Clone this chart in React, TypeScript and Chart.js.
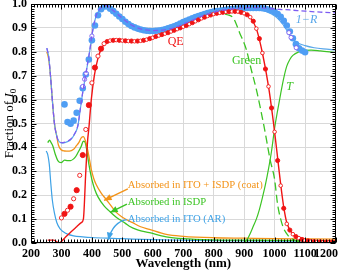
import React, { useEffect, useRef } from 'react';
import { Chart, registerables } from 'chart.js';
Chart.register(...registerables);

const SERIF = '"Liberation Serif", "DejaVu Serif", serif';

// ---------- data ----------
const xTickLabels = [200, 300, 400, 500, 600, 700, 800, 900, 1000, 1100, 1200];

// 1-R, thin solid line (calculated)
const rLineX = [252, 258, 264, 270, 277, 285, 293, 305, 320, 330, 343, 354, 362, 370, 381, 392, 403, 414, 430, 447, 460, 480, 500, 530, 560, 600, 640, 680, 720, 760, 800, 840, 880, 920, 950, 970, 990, 1010, 1030, 1040, 1050, 1060, 1075, 1100, 1130, 1160, 1200];
const rLineY = [0.815, 0.78, 0.70, 0.60, 0.50, 0.445, 0.423, 0.418, 0.424, 0.432, 0.455, 0.49, 0.56, 0.63, 0.713, 0.796, 0.89, 0.95, 0.982, 0.992, 0.98, 0.96, 0.938, 0.91, 0.894, 0.886, 0.89, 0.903, 0.925, 0.946, 0.963, 0.974, 0.98, 0.982, 0.978, 0.97, 0.958, 0.94, 0.91, 0.89, 0.868, 0.853, 0.838, 0.826, 0.817, 0.812, 0.808];

// 1-R, dashed purple line
const rDashX = [252, 258, 264, 270, 277, 285, 293, 305, 320, 330, 343, 354, 362, 370, 381, 392, 403, 414, 430, 447, 460, 480, 500, 530, 560, 600, 640, 680, 720, 760, 800, 840, 880, 920, 960, 1000, 1050, 1100, 1150, 1200];
const rDashY = [0.815, 0.78, 0.70, 0.60, 0.50, 0.445, 0.423, 0.42, 0.426, 0.434, 0.457, 0.492, 0.562, 0.632, 0.715, 0.798, 0.892, 0.952, 0.984, 0.994, 0.982, 0.962, 0.94, 0.912, 0.896, 0.889, 0.892, 0.905, 0.927, 0.948, 0.965, 0.976, 0.982, 0.985, 0.984, 0.979, 0.975, 0.97, 0.966, 0.963];

// 1-R measured, filled blue circles
const rMeasX = [310, 320, 330, 340, 350, 360, 370, 380, 390, 400, 410, 420, 430, 440, 450, 460, 470, 480, 490, 500, 510, 520, 530, 540, 550, 560, 570, 580, 590, 600, 610, 620, 630, 640, 650, 660, 670, 680, 690, 700, 710, 720, 730, 740, 750, 760, 770, 780, 790, 800, 810, 820, 830, 840, 850, 860, 870, 880, 890, 900, 910, 920, 930, 940, 950, 960, 970, 980, 990, 1000, 1010, 1020, 1030, 1040, 1050, 1060, 1070, 1080, 1090, 1100];
const rMeasY = [0.58, 0.506, 0.499, 0.512, 0.545, 0.595, 0.648, 0.705, 0.768, 0.848, 0.91, 0.953, 0.978, 0.99, 0.99, 0.98, 0.97, 0.959, 0.948, 0.937, 0.926, 0.916, 0.908, 0.902, 0.897, 0.893, 0.89, 0.888, 0.887, 0.887, 0.888, 0.889, 0.891, 0.894, 0.898, 0.902, 0.907, 0.912, 0.918, 0.924, 0.93, 0.935, 0.94, 0.945, 0.95, 0.954, 0.958, 0.962, 0.965, 0.968, 0.97, 0.972, 0.974, 0.976, 0.978, 0.979, 0.98, 0.981, 0.982, 0.983, 0.983, 0.983, 0.983, 0.983, 0.983, 0.982, 0.98, 0.977, 0.973, 0.967, 0.958, 0.946, 0.93, 0.91, 0.885, 0.857, 0.832, 0.815, 0.805, 0.798];

// 1-R second measurement, open purple circles
const rOpenX = [370, 376, 381, 400, 1047, 1054, 1071];
const rOpenY = [0.655, 0.685, 0.71, 0.866, 0.88, 0.86, 0.817];

// QE measured markers (alternating open / filled)
const qeMarkX = [300, 310, 320, 330, 340, 350, 360, 370, 380, 390, 400, 410, 420, 430, 440, 450, 460, 470, 480, 490, 500, 510, 520, 530, 540, 550, 560, 570, 580, 590, 600, 610, 620, 630, 640, 650, 660, 670, 680, 690, 700, 710, 720, 730, 740, 750, 760, 770, 780, 790, 800, 810, 820, 830, 840, 850, 860, 870, 880, 890, 900, 910, 920, 930, 940, 950, 960, 970, 980, 990, 1000, 1010, 1020, 1030, 1040, 1050, 1060, 1070, 1080, 1090, 1100, 1110, 1120, 1130, 1140, 1150, 1160, 1170, 1180, 1190, 1200];
const qeMarkY = [0.105, 0.122, 0.137, 0.152, 0.185, 0.221, 0.283, 0.368, 0.475, 0.577, 0.67, 0.734, 0.782, 0.813, 0.834, 0.843, 0.847, 0.848, 0.849, 0.848, 0.847, 0.846, 0.845, 0.845, 0.844, 0.845, 0.846, 0.848, 0.851, 0.855, 0.859, 0.864, 0.868, 0.872, 0.876, 0.88, 0.885, 0.89, 0.895, 0.9, 0.905, 0.91, 0.916, 0.922, 0.928, 0.934, 0.94, 0.945, 0.95, 0.954, 0.958, 0.961, 0.963, 0.965, 0.967, 0.968, 0.969, 0.969, 0.968, 0.965, 0.961, 0.955, 0.945, 0.928, 0.897, 0.855, 0.795, 0.728, 0.655, 0.565, 0.465, 0.345, 0.24, 0.145, 0.08, 0.054, 0.037, 0.027, 0.02, 0.015, 0.011, 0.009, 0.007, 0.006, 0.005, 0.005, 0.004, 0.004, 0.004, 0.004, 0.004];

// QE calculated, red line
const qeLineX = [255, 275, 292, 310, 330, 350, 365, 372, 380, 386, 390, 398, 408, 419, 430, 447, 470, 500, 550, 580, 600, 650, 700, 750, 800, 850, 880, 900, 920, 940, 960, 980, 1000, 1010, 1020, 1030, 1040, 1060, 1080, 1100, 1150, 1200];
const qeLineY = [0.012, 0.012, 0.0, 0.02, 0.045, 0.068, 0.085, 0.1, 0.3, 0.43, 0.48, 0.6, 0.7, 0.768, 0.81, 0.838, 0.845, 0.846, 0.845, 0.85, 0.858, 0.879, 0.905, 0.934, 0.958, 0.968, 0.968, 0.961, 0.944, 0.897, 0.795, 0.655, 0.465, 0.355, 0.245, 0.15, 0.085, 0.037, 0.02, 0.011, 0.005, 0.004];

// Green (dashed)
const greenX = [760, 790, 820, 845, 865, 885, 907, 923, 940, 954, 965, 975, 985, 1000, 1010, 1020, 1030, 1045, 1060, 1080];
const greenY = [0.945, 0.958, 0.962, 0.955, 0.94, 0.88, 0.81, 0.727, 0.643, 0.56, 0.49, 0.42, 0.35, 0.266, 0.16, 0.1, 0.06, 0.03, 0.015, 0.005];

// T (green solid)
const tX = [900, 910, 920, 930, 940, 950, 960, 970, 980, 990, 1000, 1010, 1020, 1030, 1040, 1050, 1060, 1080, 1100, 1120, 1150, 1180, 1200];
const tY = [0.0, 0.015, 0.04, 0.07, 0.1, 0.14, 0.19, 0.245, 0.31, 0.385, 0.48, 0.555, 0.625, 0.69, 0.74, 0.768, 0.785, 0.8, 0.806, 0.807, 0.804, 0.8, 0.797];

// Absorbed in ITO + ISDP (coat), orange
const coatX = [252, 258, 264, 270, 277, 284, 290, 299, 310, 326, 340, 348, 357, 365, 372, 378, 386, 392, 398, 406, 414, 430, 447, 465, 480, 500, 534, 560, 589, 644, 700, 800, 900, 1000, 1100, 1200];
const coatY = [0.8, 0.77, 0.70, 0.60, 0.50, 0.45, 0.41, 0.39, 0.385, 0.384, 0.392, 0.405, 0.42, 0.44, 0.445, 0.43, 0.39, 0.35, 0.308, 0.27, 0.245, 0.21, 0.182, 0.152, 0.128, 0.108, 0.085, 0.068, 0.057, 0.036, 0.028, 0.022, 0.02, 0.018, 0.017, 0.016];

// Absorbed in ISDP, green
const isdpX = [255, 261, 266, 272, 280, 288, 299, 310, 320, 330, 340, 348, 357, 365, 372, 378, 383, 390, 400, 410, 420, 440, 458, 475, 491, 510, 523, 550, 589, 644, 700, 800, 900, 1000, 1100, 1200];
const isdpY = [0.42, 0.43, 0.42, 0.405, 0.37, 0.345, 0.336, 0.347, 0.345, 0.345, 0.352, 0.364, 0.385, 0.405, 0.426, 0.42, 0.39, 0.33, 0.265, 0.222, 0.193, 0.155, 0.133, 0.113, 0.098, 0.082, 0.07, 0.055, 0.043, 0.026, 0.018, 0.013, 0.012, 0.011, 0.01, 0.01];

// Absorbed in ITO (AR), light blue
const itoX = [250, 255, 260, 265, 270, 277, 285, 295, 305, 320, 340, 370, 400, 450, 500, 600, 700, 800, 1000, 1200];
const itoY = [0.385, 0.37, 0.33, 0.25, 0.18, 0.125, 0.085, 0.06, 0.048, 0.037, 0.03, 0.026, 0.023, 0.02, 0.018, 0.014, 0.012, 0.01, 0.008, 0.007];

// ---------- styles ----------
const C_BLUE = '#4f9ef4';
const C_BLUE_LINE = '#5aa8ea';
const C_PURPLE = '#7d5cf2';
const C_RED = '#f01414';
const C_GREEN = '#3cc424';
const C_ORANGE = '#f39318';
const C_ITO = '#3ea2e6';

const pts = (xs: number[], ys: number[]) => xs.map((x, i) => ({ x, y: ys[i] }));

const lineDs = (data: any, color: string, width: number, dash: number[] = []) => ({
  data,
  showLine: true,
  borderColor: color,
  borderWidth: width,
  borderDash: dash,
  pointRadius: 0,
  pointHoverRadius: 0,
  cubicInterpolationMode: 'monotone',
  fill: false,
});

const decoPlugin = {
  id: 'deco',
  afterDraw(chart: any) {
    const { ctx, chartArea: a, scales } = chart;
    const xs = scales.x;
    const ys = scales.y;
    const X = (v: number) => xs.getPixelForValue(v);
    const Y = (v: number) => ys.getPixelForValue(v);
    ctx.save();

    const arrow = (x0: number, y0: number, x1: number, y1: number, color: string, cx?: number, cy?: number) => {
      const p0x = X(x0), p0y = Y(y0), p1x = X(x1), p1y = Y(y1);
      ctx.strokeStyle = color;
      ctx.fillStyle = color;
      ctx.lineWidth = 1.4;
      ctx.beginPath();
      ctx.moveTo(p0x, p0y);
      let dx = p1x - p0x, dy = p1y - p0y;
      if (cx !== undefined && cy !== undefined) {
        const qx = X(cx), qy = Y(cy);
        ctx.quadraticCurveTo(qx, qy, p1x, p1y);
        dx = p1x - qx; dy = p1y - qy;
      } else {
        ctx.lineTo(p1x, p1y);
      }
      ctx.stroke();
      const len = Math.hypot(dx, dy) || 1;
      const ux = dx / len, uy = dy / len;
      const hl = 7.5, hw = 3.2;
      ctx.beginPath();
      ctx.moveTo(p1x, p1y);
      ctx.lineTo(p1x - ux * hl - uy * hw, p1y - uy * hl + ux * hw);
      ctx.lineTo(p1x - ux * hl + uy * hw, p1y - uy * hl - ux * hw);
      ctx.closePath();
      ctx.fill();
    };
    arrow(518, 0.226, 440, 0.178, C_ORANGE);
    arrow(515, 0.163, 460, 0.128, C_GREEN);
    arrow(515, 0.098, 454, 0.012, C_ITO, 468, 0.088);

    const text = (s: string, x: number, y: number, color: string, font: string, align: CanvasTextAlign = 'left') => {
      ctx.font = font;
      ctx.fillStyle = color;
      ctx.textAlign = align;
      ctx.textBaseline = 'middle';
      ctx.fillText(s, X(x), Y(y));
    };
    text('Absorbed in ITO + ISDP (coat)', 518, 0.242, C_ORANGE, `10.7px ${SERIF}`);
    text('Absorbed in ISDP', 518, 0.171, C_GREEN, `10.7px ${SERIF}`);
    text('Absorbed in ITO (AR)', 518, 0.101, C_ITO, `10.7px ${SERIF}`);
    text('QE', 675, 0.842, C_RED, `12px ${SERIF}`, 'center');
    text('Green', 908, 0.762, C_GREEN, `12px ${SERIF}`, 'center');
    text('T', 1049, 0.652, C_GREEN, `italic 12px ${SERIF}`, 'center');
    text('1\u2212R', 1105, 0.935, C_BLUE_LINE, `italic 12px ${SERIF}`, 'center');

    // frame
    ctx.strokeStyle = '#000';
    ctx.lineWidth = 1;
    const L = Math.round(a.left) + 0.5, R = Math.round(a.right) - 0.5;
    const T = Math.round(a.top) + 0.5, B = Math.round(a.bottom) - 0.5;
    ctx.strokeRect(L, T, R - L, B - T);

    // inward ticks
    ctx.beginPath();
    for (let i = 0; i <= 100; i++) {
      const px = Math.round(X(200 + i * 10)) + 0.5;
      const len = i % 10 === 0 ? 5 : 3;
      ctx.moveTo(px, B); ctx.lineTo(px, B - len);
      ctx.moveTo(px, T); ctx.lineTo(px, T + len);
    }
    for (let i = 0; i <= 100; i++) {
      const py = Math.round(Y(i / 100)) + 0.5;
      const len = i % 10 === 0 ? 5 : 3;
      ctx.moveTo(L, py); ctx.lineTo(L + len, py);
      ctx.moveTo(R, py); ctx.lineTo(R - len, py);
    }
    ctx.stroke();

    // x tick labels
    ctx.fillStyle = '#000';
    ctx.font = `bold 12px ${SERIF}`;
    ctx.textAlign = 'center';
    ctx.textBaseline = 'top';
    xTickLabels.forEach((v) => {
      const s = String(v);
      const w = ctx.measureText(s).width;
      let px = X(v);
      if (px + w / 2 > chart.width - 1) px = chart.width - 1 - w / 2;
      ctx.fillText(s, px, a.bottom + 5);
    });

    // x title
    ctx.font = `bold 13px ${SERIF}`;
    ctx.textBaseline = 'middle';
    ctx.fillText('Wavelength (nm)', (a.left + a.right) / 2, 264);

    // y title with italic I and subscript 0
    ctx.translate(9, (a.top + a.bottom) / 2);
    ctx.rotate(-Math.PI / 2);
    const f1 = `13px ${SERIF}`, f2 = `italic 13px ${SERIF}`, f3 = `9px ${SERIF}`;
    ctx.font = f1; const w1 = ctx.measureText('Fraction of ').width;
    ctx.font = f2; const w2 = ctx.measureText('I').width;
    ctx.font = f3; const w3 = ctx.measureText('0').width;
    let sx = -(w1 + w2 + w3) / 2;
    ctx.textAlign = 'left';
    ctx.textBaseline = 'alphabetic';
    ctx.font = f1; ctx.fillText('Fraction of ', sx, 4); sx += w1;
    ctx.font = f2; ctx.fillText('I', sx, 4); sx += w2;
    ctx.font = f3; ctx.fillText('0', sx, 7);

    ctx.restore();
  },
};

export default function App() {
  const ref = useRef<HTMLCanvasElement | null>(null);
  useEffect(() => {
    if (!ref.current) return;
    const datasets: any[] = [
      lineDs(pts(rDashX, rDashY), C_PURPLE, 1.3, [5, 3]),
      {
        data: pts(qeMarkX, qeMarkY),
        showLine: false,
        pointStyle: 'circle',
        pointRadius: (c: any) => {
          const x = qeMarkX[c.dataIndex];
          const big = x < 450;
          if (c.dataIndex % 2 === 0) return big ? 2.1 : 1.8;
          return big ? 2.6 : 2.1;
        },
        pointBackgroundColor: (c: any) => (c.dataIndex % 2 === 0 ? '#ffffff' : C_RED),
        pointBorderColor: C_RED,
        pointBorderWidth: 0.9,
        pointHoverRadius: 0,
      },
      lineDs(pts(qeLineX, qeLineY), C_RED, 1.4),
      {
        data: pts(rOpenX, rOpenY),
        showLine: false,
        pointStyle: 'circle',
        pointRadius: 2.1,
        pointBackgroundColor: '#ffffff',
        pointBorderColor: C_PURPLE,
        pointBorderWidth: 0.9,
        pointHoverRadius: 0,
      },
      {
        data: pts(rMeasX, rMeasY),
        showLine: false,
        pointStyle: 'circle',
        pointRadius: 3.3,
        pointBackgroundColor: C_BLUE,
        pointBorderColor: C_BLUE,
        pointBorderWidth: 0,
        pointHoverRadius: 0,
      },
      lineDs(pts(rLineX, rLineY), C_BLUE_LINE, 1.2),
      lineDs(pts(greenX, greenY), C_GREEN, 1.3, [8, 4]),
      lineDs(pts(tX, tY), C_GREEN, 1.2),
      lineDs(pts(coatX, coatY), C_ORANGE, 1.3),
      lineDs(pts(isdpX, isdpY), C_GREEN, 1.3),
      lineDs(pts(itoX, itoY), C_ITO, 1.2),
    ];
    const chart = new Chart(ref.current, {
      type: 'scatter',
      data: { datasets },
      options: {
        responsive: false,
        animation: false,
        devicePixelRatio: 1,
        layout: { padding: { top: 4, right: 3, left: 0, bottom: 0 } },
        plugins: { legend: { display: false }, tooltip: { enabled: false }, title: { display: false } },
        scales: {
          x: {
            type: 'linear',
            min: 200,
            max: 1200,
            ticks: { stepSize: 100, display: false },
            grid: { color: '#d9d9d9', lineWidth: 1, drawTicks: false },
            border: { display: false },
            afterFit: (s: any) => {
              s.height = 31;
              s.paddingLeft = 0; s.paddingRight = 0; s.paddingTop = 0; s.paddingBottom = 0;
            },
          },
          y: {
            type: 'linear',
            min: 0,
            max: 1,
            ticks: {
              stepSize: 0.1,
              padding: 4,
              color: '#000',
              font: { family: SERIF, size: 12, weight: 'bold' },
              callback: (v: any) => Number(v).toFixed(1),
            },
            grid: { color: '#d9d9d9', lineWidth: 1, drawTicks: false },
            border: { display: false },
            afterFit: (s: any) => {
              s.width = 31;
              s.paddingLeft = 0; s.paddingRight = 0; s.paddingTop = 0; s.paddingBottom = 0;
            },
          },
        },
      },
      plugins: [decoPlugin],
    } as any);
    return () => chart.destroy();
  }, []);
  return (
    <div style={{ position: 'absolute', left: 0, top: 0, width: 339, height: 274, background: '#fff' }}>
      <canvas ref={ref} width={339} height={274} style={{ display: 'block' }} />
    </div>
  );
}
